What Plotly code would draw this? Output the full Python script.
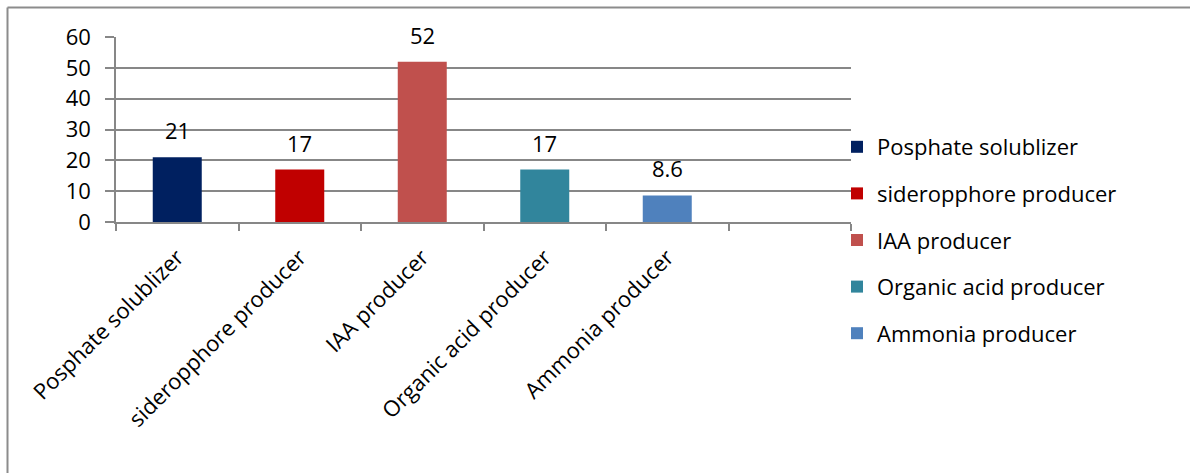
import plotly.graph_objects as go

categories = ["Posphate solublizer", "sideropphore producer", "IAA producer",
              "Organic acid producer", "Ammonia producer"]
values = [21, 17, 52, 17, 8.6]
value_labels = ["21", "17", "52", "17", "8.6"]
colors = ["#002060", "#C00000", "#C0504D", "#31859C", "#4F81BD"]
y_ticks = [0, 10, 20, 30, 40, 50, 60]
extra_slot = " "

FONT = "Open Sans"
FS = 22
GRID = "#878787"

fig = go.Figure()
for i, (cat, val, col) in enumerate(zip(categories, values, colors)):
    fig.add_trace(go.Bar(
        x=[cat], y=[val], name=cat, marker=dict(color=col, line=dict(width=0)),
        width=0.4, legendgroup=f"g{i}", hoverinfo="x+y",
    ))

for cat, val, lab in zip(categories, values, value_labels):
    fig.add_annotation(x=cat, y=val, text=lab, showarrow=False,
                       yanchor="middle", yshift=27,
                       font=dict(family=FONT, size=FS, color="#000000"))

# outer chart border (top and left edges visible)
fig.add_shape(type="line", xref="paper", yref="paper",
              x0=(7.5 - 116) / 735, x1=(1200 - 116) / 735,
              y0=(222 - 7.5) / 185, y1=(222 - 7.5) / 185,
              line=dict(color="#8c8c8c", width=2))
fig.add_shape(type="line", xref="paper", yref="paper",
              x0=(7.5 - 116) / 735, x1=(7.5 - 116) / 735,
              y0=(222 - 7.5) / 185, y1=(222 - 480) / 185,
              line=dict(color="#8c8c8c", width=2))

fig.update_layout(
    width=1190, height=473,
    margin=dict(l=116, r=339, t=37, b=251, autoexpand=False),
    paper_bgcolor="white", plot_bgcolor="white",
    barmode="overlay",
    font=dict(family=FONT, size=FS, color="#000000"),
    showlegend=True,
    legend=dict(x=(837 - 116) / 735, xanchor="left", y=(222 - 126) / 185, yanchor="top",
                tracegroupgap=15, itemwidth=30, font=dict(family=FONT, size=FS),
                bgcolor="rgba(0,0,0,0)", maxheight=470),
    xaxis=dict(type="category", categoryorder="array",
               categoryarray=categories + [extra_slot],
               range=[-0.5, 5.5], tickson="boundaries", ticks="outside",
               ticklen=7, tickcolor=GRID, tickwidth=1.5, showline=True,
               linecolor=GRID, linewidth=1.5, tickangle=-45, showgrid=False,
               ticklabelstandoff=12,
               tickfont=dict(family=FONT, size=FS)),
    yaxis=dict(range=[0, 60], tickvals=y_ticks, ticks="outside", ticklen=9,
               tickcolor=GRID, tickwidth=1.5, showline=True, linecolor=GRID,
               linewidth=1.5, showgrid=True, gridcolor=GRID, gridwidth=1.5,
               zeroline=False, ticklabelstandoff=10,
               tickfont=dict(family=FONT, size=FS)),
)

fig.write_html("out.html")
